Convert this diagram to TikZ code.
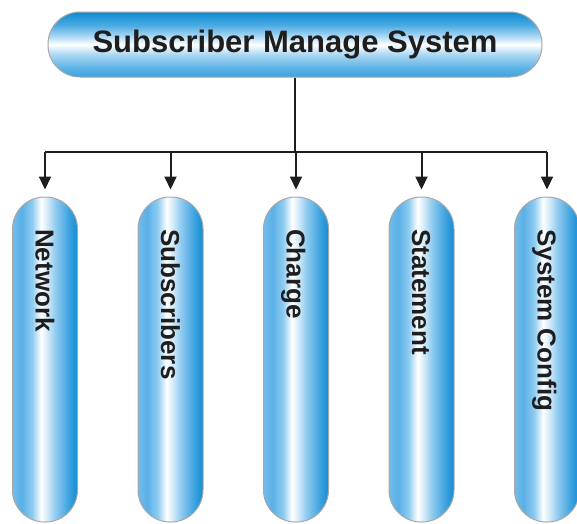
\documentclass[tikz,border=0pt]{standalone}
\usepackage{fontspec}
\setmainfont{Liberation Sans}
\usetikzlibrary{arrows.meta}
\definecolor{tA}{HTML}{0B8BD3}
\definecolor{tB}{HTML}{4BAAE2}
\definecolor{tC}{HTML}{B0DAF4}
\definecolor{tD}{HTML}{A8D6F2}
\definecolor{tE}{HTML}{5CB3E6}
\definecolor{tF}{HTML}{3EA2DD}
\definecolor{cA}{HTML}{72BDEB}
\definecolor{cB}{HTML}{5AB0E6}
\definecolor{cC}{HTML}{8ECBF0}
\definecolor{cD}{HTML}{D0E9F8}
\definecolor{cE}{HTML}{8FCBF0}
\definecolor{cF}{HTML}{3FA3DF}
\definecolor{cG}{HTML}{148CD5}
\definecolor{edge}{HTML}{A8A8A8}
\definecolor{ink}{HTML}{1E1E1E}
\pgfdeclareverticalshading{topgrad}{100bp}{color(0bp)=(tF); color(25bp)=(tF); color(32bp)=(tE); color(42bp)=(tD); color(50bp)=(white); color(56bp)=(tC); color(65bp)=(tB); color(75bp)=(tA); color(100bp)=(tA)}
\pgfdeclarehorizontalshading{colgrad}{100bp}{color(0bp)=(cA); color(25bp)=(cA); color(32bp)=(cB); color(40bp)=(cC); color(47bp)=(white); color(52bp)=(cD); color(58bp)=(cE); color(68bp)=(cF); color(75bp)=(cG); color(100bp)=(cG)}
\tikzset{
  topbox/.style={draw=edge, line width=1pt, shading=topgrad, rounded corners=32pt,
    minimum width=494pt, minimum height=65pt, inner sep=0pt,
    font=\fontsize{31}{36}\selectfont\bfseries, text=ink},
  colbox/.style={draw=edge, line width=1pt, shading=colgrad, rounded corners=32pt,
    minimum width=65pt, minimum height=325pt, inner sep=0pt},
  collabel/.style={rotate=-90, anchor=west, inner sep=0pt, text height=19pt, text depth=0pt,
    font=\fontsize{26}{30}\selectfont\bfseries, text=ink},
  link/.style={draw=ink, line width=2pt},
  arrowlink/.style={link, -{Triangle[length=13pt,width=12pt]}, shorten >=7pt},
}
\begin{document}
\begin{tikzpicture}[x=1pt,y=-1pt]
\useasboundingbox (0,0) rectangle (577,523);
\clip (0,0) rectangle (577,523);
\node[topbox] (top) at (295,44.5) {Subscriber Manage System};
\node[colbox] (c1) at (45,359.5) {};
\node[colbox] (c2) at (170.5,359.5) {};
\node[colbox] (c3) at (296,359.5) {};
\node[colbox] (c4) at (421.5,359.5) {};
\node[colbox] (c5) at (547,359.5) {};
\node[collabel] (t1) at (45,229) {Network};
\node[collabel] (t2) at (170.5,229) {Subscribers};
\node[collabel] (t3) at (296,229) {Charge};
\node[collabel] (t4) at (421.5,229) {Statement};
\node[collabel] (t5) at (547,229) {System Config};
\coordinate (j) at (295,152);
\draw[link] (top.south) -- (j);
\draw[link] (c1.north |- j) -- (c5.north |- j);
\foreach \c in {c1,c2,c3,c4,c5}
  \draw[arrowlink] (\c.north |- j) -- (\c.north);
\end{tikzpicture}
\end{document}
